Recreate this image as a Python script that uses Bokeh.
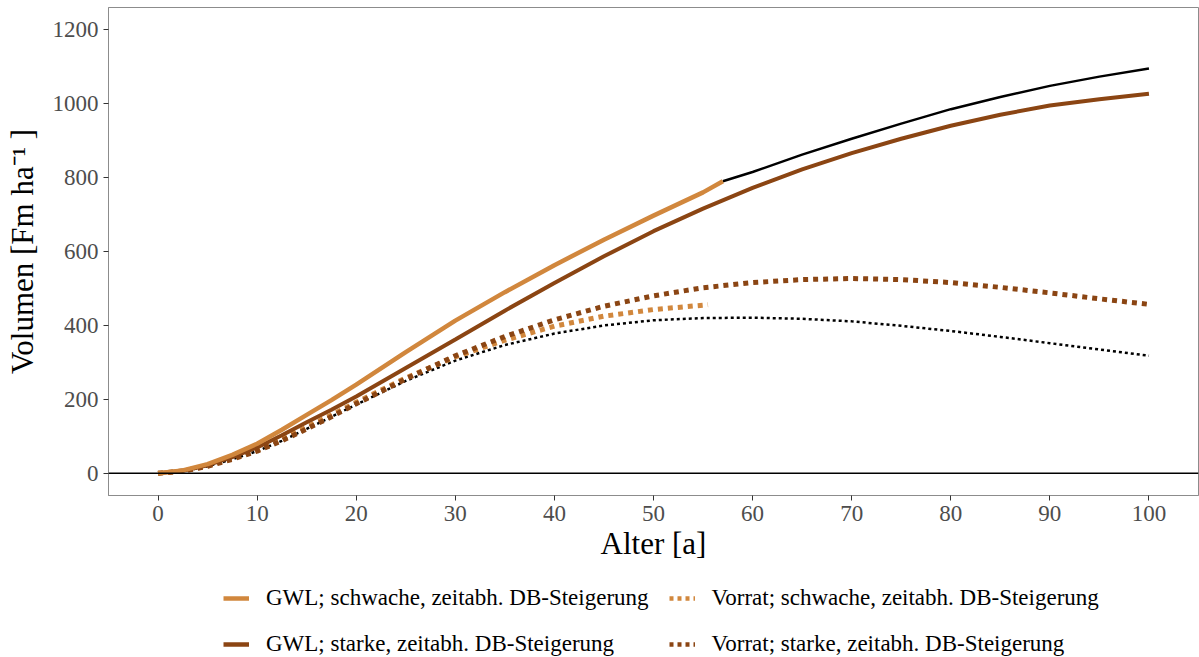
import numpy as np
from bokeh.plotting import figure
from bokeh.layouts import column
from bokeh.models import Legend, LegendItem, Span, FixedTicker, Range1d
from bokeh.embed import file_html
from bokeh.resources import INLINE

# --- data ---
age = [0, 2.5, 5, 7.5, 10, 12.5, 15, 17.5, 20, 25, 30, 35, 40, 45, 50, 55, 60, 65, 70, 75, 80, 85, 90, 95, 100]

gwl_schwach_x = [0, 2.5, 5, 7.5, 10, 12.5, 15, 17.5, 20, 25, 30, 35, 40, 45, 50, 55, 57]
gwl_schwach_y = [0, 8, 25, 50, 80, 118, 158, 198, 240, 328, 413, 490, 563, 632, 697, 760, 790]

gwl_stark_y = [0, 7, 22, 44, 70, 103, 138, 172, 208, 285, 362, 440, 515, 587, 655, 716, 772, 822, 866, 905, 940, 970, 995, 1012, 1027]

gwl_black_x = [57, 60, 65, 70, 75, 80, 85, 90, 95, 100]
gwl_black_y = [790, 815, 862, 905, 946, 985, 1018, 1048, 1073, 1095]

vorrat_schwach_x = [0, 2.5, 5, 7.5, 10, 12.5, 15, 17.5, 20, 25, 30, 35, 40, 45, 50, 55.5]
vorrat_schwach_y = [0, 6, 20, 40, 62, 92, 125, 158, 192, 258, 315, 360, 398, 425, 443, 456]

vorrat_stark_y = [0, 6, 19, 38, 60, 88, 120, 153, 188, 255, 318, 370, 415, 452, 480, 502, 516, 524, 527, 524, 516, 503, 488, 472, 457]

vorrat_black_y = [0, 6, 19, 38, 60, 88, 120, 153, 186, 250, 305, 347, 378, 400, 414, 420, 421, 418, 411, 399, 385, 369, 352, 335, 318]

x_ticks = [0, 10, 20, 30, 40, 50, 60, 70, 80, 90, 100]
y_ticks = [0, 200, 400, 600, 800, 1000, 1200]

labels = ["GWL; schwache, zeitabh. DB-Steigerung",
          "GWL; starke, zeitabh. DB-Steigerung",
          "Vorrat; schwache, zeitabh. DB-Steigerung",
          "Vorrat; starke, zeitabh. DB-Steigerung"]

LIGHT = "#D1873D"
DARK = "#8B4513"
FONT = "Liberation Serif"

p = figure(width=1199, height=571, output_backend="svg", toolbar_location=None,
           x_range=Range1d(-5, 105), y_range=Range1d(-60, 1260),
           min_border_left=108, min_border_right=1, min_border_top=7, min_border_bottom=76)

p.background_fill_color = "white"
p.border_fill_color = "white"
p.outline_line_color = "#8c8c8c"
p.outline_line_width = 1
p.grid.visible = False

# zero line
p.add_layout(Span(location=0, dimension="width", line_color="black", line_width=1.5))

# black dotted (Vorrat, reference)
p.line(age, vorrat_black_y, line_color="black", line_width=2.5, line_dash="3 3")
# dotted series
p.line(vorrat_schwach_x, vorrat_schwach_y, line_color=LIGHT, line_width=5, line_dash="5 5")
p.line(age, vorrat_stark_y, line_color=DARK, line_width=5, line_dash="5 5")
# solid
p.line(age, gwl_stark_y, line_color=DARK, line_width=4)
p.line(gwl_black_x, gwl_black_y, line_color="black", line_width=2.5)
p.line(gwl_schwach_x, gwl_schwach_y, line_color=LIGHT, line_width=4.5)

# axes
p.xaxis.ticker = FixedTicker(ticks=x_ticks)
p.yaxis.ticker = FixedTicker(ticks=y_ticks)
for ax in (p.xaxis[0], p.yaxis[0]):
    ax.axis_line_color = "#8c8c8c"
    ax.major_tick_line_color = "#333333"
    ax.major_tick_out = 5
    ax.major_tick_in = 0
    ax.minor_tick_line_color = None
    ax.major_label_text_font = FONT
    ax.major_label_text_font_size = "23px"
    ax.major_label_text_color = "#4d4d4d"
    ax.axis_label_text_font = FONT
    ax.axis_label_text_font_size = "31px"
    ax.axis_label_text_font_style = "normal"
    ax.axis_label_text_color = "black"
p.xaxis.axis_label = "Alter [a]"
p.yaxis.axis_label = "Volumen [Fm ha\u207b\u00b9 ]"
p.xaxis.axis_label_standoff = 2
p.yaxis.axis_label_standoff = 10
p.xaxis.major_label_standoff = 5
p.yaxis.major_label_standoff = 5

# --- legend strip below the plot ---
q = figure(width=1199, height=86, output_backend="svg", toolbar_location=None,
           x_range=Range1d(1000, 1001), y_range=Range1d(5000, 5001),
           x_axis_location=None, y_axis_location=None,
           min_border_left=0, min_border_right=0, min_border_top=0, min_border_bottom=0)
q.outline_line_color = None
q.grid.visible = False
q.border_fill_color = "white"
q.background_fill_color = "white"

l_gs = q.line(gwl_schwach_x, gwl_schwach_y, line_color=LIGHT, line_width=4.5)
l_gst = q.line(age, gwl_stark_y, line_color=DARK, line_width=4.5)
l_vs = q.line(vorrat_schwach_x, vorrat_schwach_y, line_color=LIGHT, line_width=4.5, line_dash="4 4")
l_vst = q.line(age, vorrat_stark_y, line_color=DARK, line_width=4.5, line_dash="4 4")

legend = Legend(items=[LegendItem(label=labels[0], renderers=[l_gs]),
                       LegendItem(label=labels[2], renderers=[l_vs]),
                       LegendItem(label=labels[1], renderers=[l_gst]),
                       LegendItem(label=labels[3], renderers=[l_vst])],
                nrows=2, orientation="horizontal")
legend.label_text_font = FONT
legend.label_text_font_size = "23px"
legend.label_text_color = "black"
legend.glyph_width = 26
legend.glyph_height = 24
legend.label_height = 24
legend.label_standoff = 17
legend.spacing = 20
legend.border_line_color = None
legend.background_fill_alpha = 0
legend.padding = 0
legend.margin = 0
legend.location = (115, 0)
q.add_layout(legend, "center")

layout = column(p, q, spacing=0)
open("out.html", "w").write(file_html(layout, INLINE))
